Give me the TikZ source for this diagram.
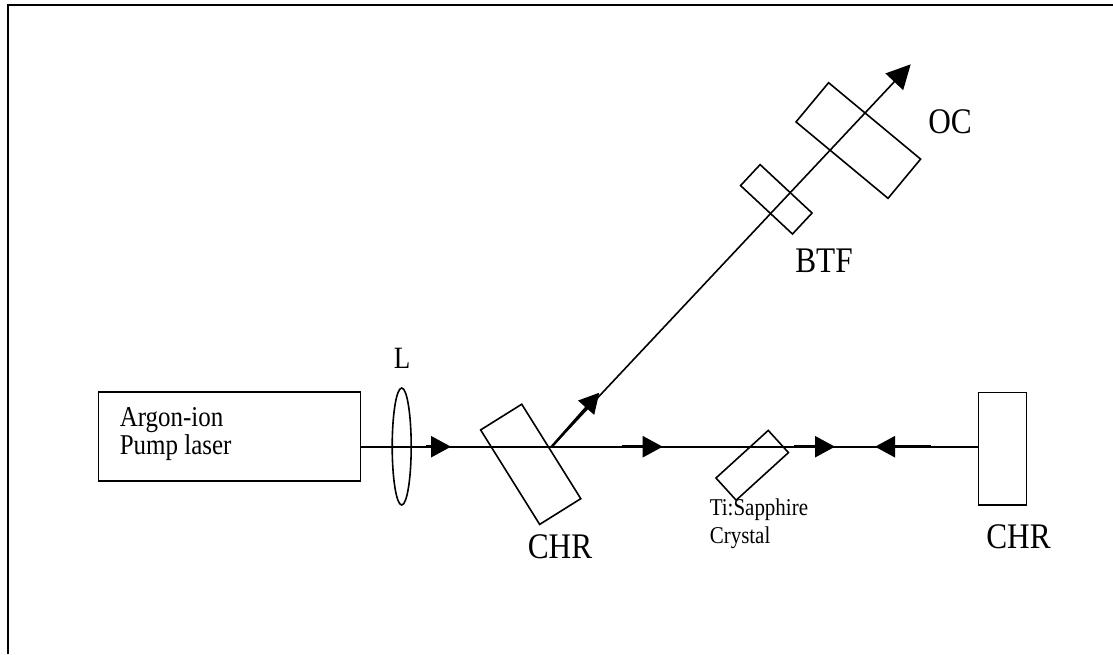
\documentclass[tikz,border=0pt]{standalone}
\usepackage{fontspec}
\setmainfont[FakeStretch=0.87]{Liberation Serif}
\usetikzlibrary{shapes.geometric,arrows.meta}

\begin{document}
\begin{tikzpicture}[x=1pt,y=-1pt,line width=1.6pt,
    part/.style={draw, rectangle, inner sep=0pt, outer sep=0pt},
    biglabel/.style={font=\fontsize{36}{36}\selectfont, inner sep=0pt, anchor=base},
    lasertext/.style={font=\fontsize{28.7}{29}\selectfont, inner sep=0pt, anchor=base west},
    crystaltext/.style={font=\fontsize{24.1}{25}\selectfont, inner sep=0pt, anchor=base west},
    beamtip/.style={line width=2.5pt, -{Triangle[length=20pt,width=21pt]}}]
    \useasboundingbox (0,0) rectangle (1113,654);

    % Frame
    \draw[line width=2pt] (8.3,654) -- (8.3,4.7) -- (1113,4.7);

    % Laser and lens
    \node[part, minimum width=262pt, minimum height=89pt] (laser) at (229.5,436.5) {};
    \node[lasertext] (lasertop) at (119,426.7) {Argon-ion};
    \node[lasertext] (laserbottom) at (119,454) {Pump laser};
    \node[draw, ellipse, inner sep=0pt, outer sep=0pt, minimum width=19pt, minimum height=117pt] (lens) at (401.7,446.5) {};
    \node[font=\fontsize{31}{31}\selectfont, inner sep=0pt, anchor=base] (lenslabel) at (402,368) {L};

    % Folding mirror
    \node[part, minimum width=111.4pt, minimum height=48.5pt, rotate=-58] (chrleft) at (530.7,464.3) {};
    \node[biglabel] (chrleftlabel) at (560,558) {CHR};
    \coordinate (turn) at (551.7,446.7);

    % Crystal
    \node[part, minimum width=70.7pt, minimum height=30pt, rotate=42.3] (crystal) at (752.2,465.3) {};
    \node[crystaltext] (crystaltop) at (709,515.5) {Ti:Sapphire};
    \node[crystaltext] (crystalbottom) at (709,543) {Crystal};

    % End mirror
    \node[part, minimum width=48pt, minimum height=112.4pt] (chrright) at (1002.3,448.5) {};
    \node[biglabel] (chrrightlabel) at (1018.5,548) {CHR};

    % Filter and output coupler
    \node[part, minimum width=71pt, minimum height=28.7pt, rotate=-43] (btf) at (776.3,199.3) {};
    \node[biglabel] (btflabel) at (824,272) {BTF};
    \node[part, minimum width=119.6pt, minimum height=51pt, rotate=-39.7] (oc) at (858.3,140.5) {};
    \node[biglabel] (oclabel) at (950,133) {OC};

    % Beams
    \coordinate (outtip) at (910.7,64.3);
    \draw (laser.east |- turn) -- (chrright.west |- turn);
    \draw[-{Triangle[length=24pt,width=24pt]}] (turn) -- (outtip);

    % Arrows on the beams
    \coordinate (tipa) at (451,446.7);
    \coordinate (tipb) at (662.7,446.7);
    \coordinate (tipc) at (835,446.7);
    \coordinate (tipd) at (875,446.7);
    \coordinate (tipe) at (599.3,392.7);
    \draw[beamtip] (426,446.7) -- (tipa);
    \draw[beamtip] (621.7,446.7) -- (tipb);
    \draw[beamtip] (794,446.7) -- (tipc);
    \draw[beamtip] (930.7,446.7) -- (tipd);
    \draw[beamtip] (turn) -- (tipe);
\end{tikzpicture}
\end{document}
